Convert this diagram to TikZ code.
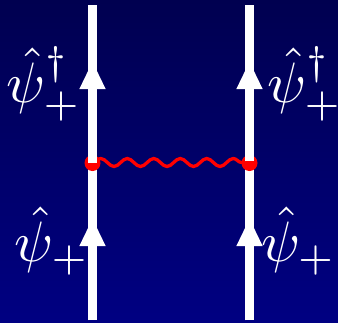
\documentclass[tikz,border=0pt]{standalone}
\usepackage{amsmath}
\usepackage{amssymb}
\usepackage{tikz}
\usetikzlibrary{arrows.meta, decorations.pathmorphing}

\definecolor{navytop}{RGB}{0,0,80}
\definecolor{navybot}{RGB}{0,0,130}
\tikzset{
    fermion/.style={white,line width=9pt},
    fermionhead/.style={fermion,-{Triangle[length=28pt,width=24pt]}},
    photon/.style={red,line width=3.3pt,decorate,decoration={snake,amplitude=4pt,segment length=26.5pt}},
    vertexdot/.style={circle,fill=red,inner sep=0pt,minimum size=16pt},
    fieldlabel/.style={white,scale=5.7,inner sep=0pt}
}

\begin{document}
\begin{tikzpicture}[x=1pt,y=-1pt]
    \fill[top color=navytop,bottom color=navybot] (0,0) rectangle (338,322);
    \useasboundingbox (0,0) rectangle (338,322);
    \foreach \side/\x/\yend in {L/92.5/163,R/249.5/161}{
        \coordinate (bot\side) at (\x,320);
        \coordinate (midhead\side) at (\x,218);
        \coordinate (vert\side) at (\x,163);
        \coordinate (wave\side) at (\x,162.5);
        \coordinate (vertend\side) at (\x,\yend);
        \coordinate (tophead\side) at (\x,61);
        \coordinate (top\side) at (\x,5);
        \draw[fermion] (bot\side) -- (vert\side);
        \draw[fermionhead] (bot\side) -- (midhead\side);
    }
    \draw[photon] (waveL) -- (waveR);
    \foreach \side in {L,R}{
        \node[vertexdot] (dot\side) at (vert\side) {};
        \draw[fermion] (vertend\side) -- (top\side);
        \draw[fermionhead] (vertend\side) -- (tophead\side);
    }
    \node[fieldlabel] (psiUL) at (44,84) {$\displaystyle\hat{\psi}^\dagger_+$};
    \node[fieldlabel] (psiUR) at (305,84) {$\displaystyle\hat{\psi}^\dagger_+$};
    \node[fieldlabel] (psiLL) at (52,241) {$\displaystyle\hat{\psi}_+$};
    \node[fieldlabel] (psiLR) at (298.5,241) {$\displaystyle\hat{\psi}_+$};
\end{tikzpicture}
\end{document}
